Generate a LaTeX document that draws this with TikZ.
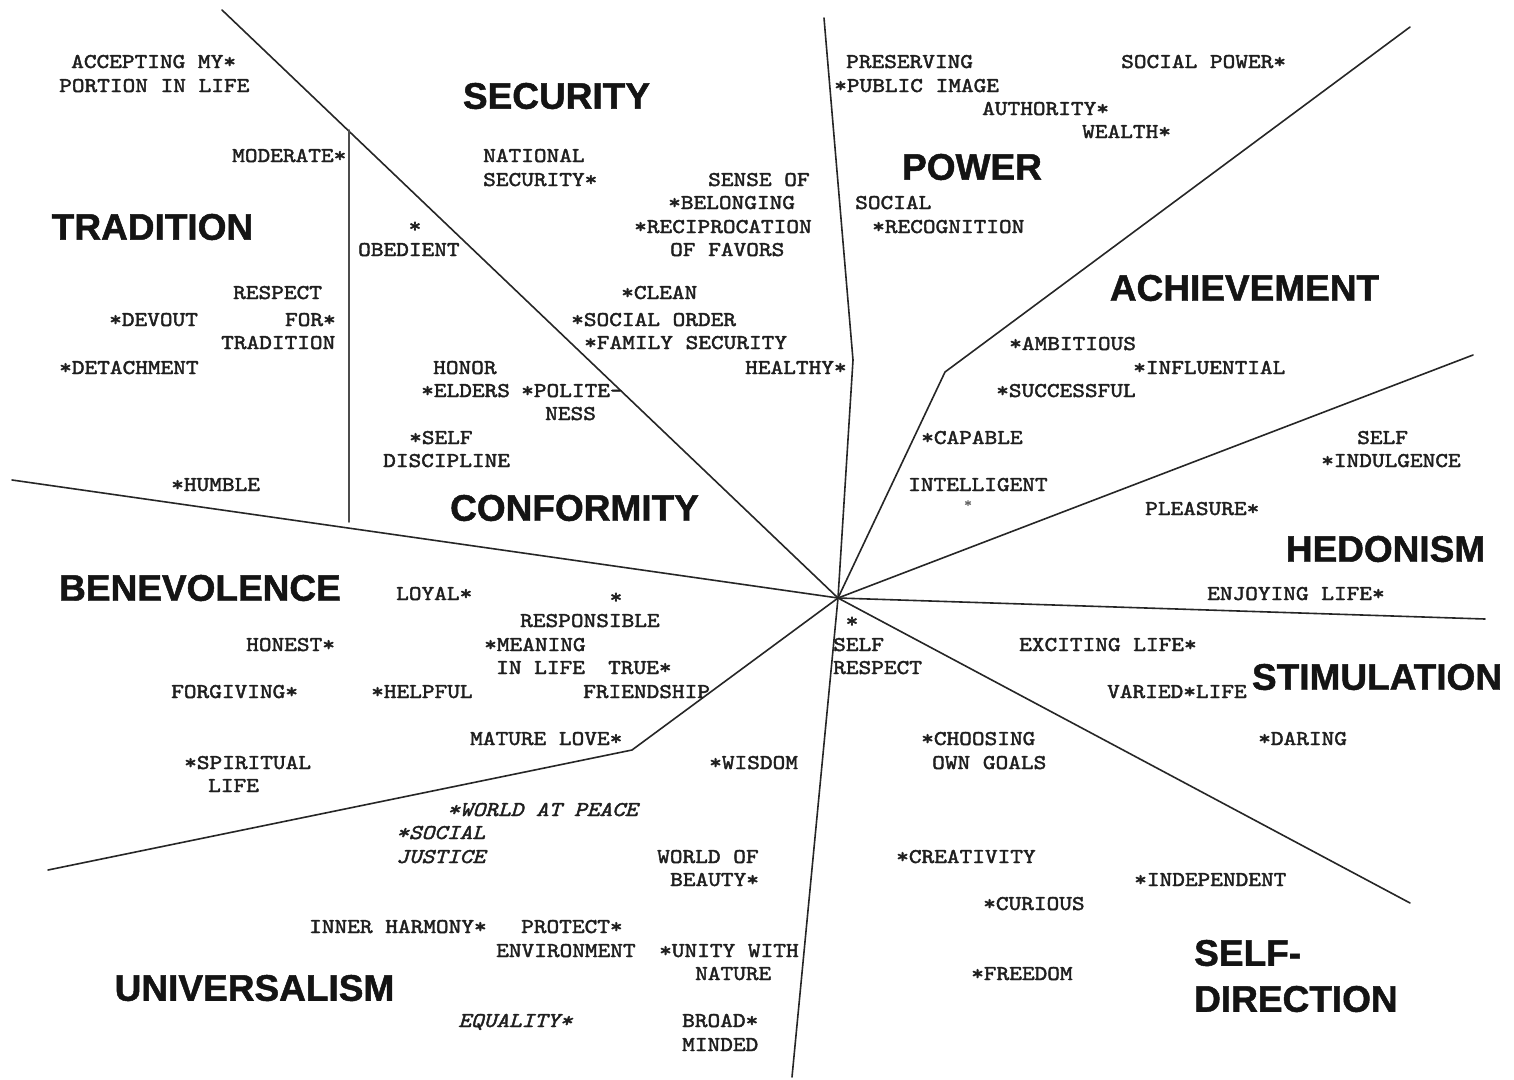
\documentclass[tikz,border=0pt]{standalone}
\usepackage{fontspec}
\newfontfamily\headfont{Liberation Sans}[BoldFeatures={FakeBold=1.3}]
\newfontfamily\lmmono{lmmono10-regular.otf}[ItalicFont=lmmono10-italic.otf, FakeStretch=1.15, FakeBold=2]
\newcommand\monosel{\lmmono\fontsize{21}{23.5}\selectfont}
\newcommand\monoselit{\lmmono\itshape\fontsize{21}{23.5}\selectfont}
\begin{document}
\begin{tikzpicture}[x=1pt,y=-1pt,
  lab/.style={font=\monosel, anchor=base west, inner sep=0pt, text=black!88},
  labr/.style={lab, anchor=base east},
  itlab/.style={lab, font=\monoselit},
  starlab/.style={lab, anchor=base},
  smallstar/.style={lab, anchor=base, font=\lmmono\fontsize{13}{14}\selectfont, text=black!60},
  head/.style={font=\headfont\bfseries\fontsize{37}{40}\selectfont, inner sep=0pt, text=black!92},
  headw/.style={head, anchor=west},
  rule/.style={line width=1.6pt, draw=black!85, line cap=round}]

\fill[white] (0,0) rectangle (1514,1079);

% ---------- lines ----------
\coordinate (c) at (838,598);
\coordinate (tl) at (222,10);
\coordinate (vtop) at (349,130);
\coordinate (vbot) at (349,522);
\coordinate (le) at (12,480);
\coordinate (tv) at (824,18);
\coordinate (tk) at (853,360);
\coordinate (ae) at (1410,27);
\coordinate (ak) at (945,372);
\coordinate (he) at (1473,355);
\coordinate (re) at (1485,619);
\coordinate (se) at (1410,903);
\coordinate (be) at (792,1077);
\coordinate (uk) at (632,750);
\coordinate (ue) at (48,870);

\draw[rule] (tl) -- (c);
\draw[rule, draw=black!70] (vtop) -- (vbot);
\draw[rule] (le) -- (c);
\draw[rule] (tv) -- (tk) -- (c);
\draw[rule] (ae) -- (ak) -- (c);
\draw[rule] (he) -- (c);
\draw[rule] (re) -- (c);
\draw[rule] (se) -- (c);
\draw[rule] (be) -- (c);
\draw[rule] (ue) -- (uk) -- (c);

% ---------- headings ----------
\node[head] (hsec) at (556.5,96) {SECURITY};
\node[head] (htra) at (152.5,227) {TRADITION};
\node[head] (hpow) at (972,167) {POWER};
\node[head] (hach) at (1244.5,288) {ACHIEVEMENT};
\node[head] (hcon) at (574.5,508) {CONFORMITY};
\node[head] (hhed) at (1385.5,549) {HEDONISM};
\node[head] (hben) at (200,588) {BENEVOLENCE};
\node[head] (hsti) at (1377,677) {STIMULATION};
\node[head] (huni) at (254.5,988) {UNIVERSALISM};
\node[headw] (hsd1) at (1194,953) {SELF-};
\node[headw] (hsd2) at (1194,999) {DIRECTION};

% ---------- tradition ----------
\node[lab] (t1) at (71,68) {ACCEPTING MY*};
\node[lab] (t2) at (59,92) {PORTION IN LIFE};
\node[lab] (t3) at (232,162) {MODERATE*};
\node[lab] (t4) at (233,299) {RESPECT};
\node[lab] (t5) at (109,326) {*DEVOUT};
\node[labr] (t6) at (336,326) {FOR*};
\node[lab] (t7) at (221,349) {TRADITION};
\node[lab] (t8) at (59,374) {*DETACHMENT};
\node[lab] (t9) at (171,491) {*HUMBLE};

% ---------- conformity ----------
\node[starlab] (c1) at (415,232.5) {*};
\node[lab] (c2) at (358,256) {OBEDIENT};
\node[lab] (c3) at (433,374) {HONOR};
\node[lab] (c4) at (421,397) {*ELDERS};
\node[lab] (c5) at (521,397) {*POLITE-};
\node[lab] (c6) at (545,420) {NESS};
\node[lab] (c7) at (409,444) {*SELF};
\node[lab] (c8) at (383,467) {DISCIPLINE};

% ---------- security ----------
\node[lab] (s1) at (483,162) {NATIONAL};
\node[lab] (s2) at (483,186) {SECURITY*};
\node[lab] (s3) at (708,186) {SENSE OF};
\node[lab] (s4) at (668,209) {*BELONGING};
\node[lab] (s5) at (634,233) {*RECIPROCATION};
\node[lab] (s6) at (670,256) {OF FAVORS};
\node[lab] (s7) at (621,299) {*CLEAN};
\node[lab] (s8) at (571,326) {*SOCIAL ORDER};
\node[lab] (s9) at (584,349) {*FAMILY SECURITY};
\node[lab] (s10) at (745,374) {HEALTHY*};

% ---------- power ----------
\node[lab] (p1) at (846,68) {PRESERVING};
\node[lab] (p2) at (834,92) {*PUBLIC IMAGE};
\node[lab] (p3) at (1121,68) {SOCIAL POWER*};
\node[lab] (p4) at (982,115) {AUTHORITY*};
\node[lab] (p5) at (1082,138) {WEALTH*};
\node[lab] (p6) at (855,209) {SOCIAL};
\node[lab] (p7) at (872,233) {*RECOGNITION};

% ---------- achievement ----------
\node[lab] (a1) at (1009,350) {*AMBITIOUS};
\node[lab] (a2) at (1133,374) {*INFLUENTIAL};
\node[lab] (a3) at (996,397) {*SUCCESSFUL};
\node[lab] (a4) at (921,444) {*CAPABLE};
\node[lab] (a5) at (908,491) {INTELLIGENT};
\node[smallstar] (a6) at (968,507) {*};

% ---------- hedonism ----------
\node[lab] (d1) at (1357,444) {SELF};
\node[lab] (d2) at (1321,467) {*INDULGENCE};
\node[lab] (d3) at (1145,515) {PLEASURE*};
\node[lab] (d4) at (1207,600) {ENJOYING LIFE*};

% ---------- stimulation ----------
\node[lab] (m1) at (1019,651) {EXCITING LIFE*};
\node[lab] (m2) at (1107,698) {VARIED*LIFE};
\node[lab] (m3) at (1258,745) {*DARING};

% ---------- self-direction ----------
\node[starlab] (r1) at (852,627.5) {*};
\node[lab] (r2) at (833,651) {SELF};
\node[lab] (r3) at (833,674) {RESPECT};
\node[lab] (r4) at (921,745) {*CHOOSING};
\node[lab] (r5) at (932,769) {OWN GOALS};
\node[lab] (r6) at (896,863) {*CREATIVITY};
\node[lab] (r7) at (983,910) {*CURIOUS};
\node[lab] (r8) at (1134,886) {*INDEPENDENT};
\node[lab] (r9) at (971,980) {*FREEDOM};

% ---------- benevolence ----------
\node[lab] (b1) at (396,600) {LOYAL*};
\node[starlab] (b2) at (616,603.5) {*};
\node[lab] (b3) at (520,627) {RESPONSIBLE};
\node[lab] (b4) at (484,651) {*MEANING};
\node[lab] (b5) at (496,674) {IN LIFE};
\node[lab] (b6) at (608,674) {TRUE*};
\node[lab] (b7) at (583,698) {FRIENDSHIP};
\node[lab] (b8) at (246,651) {HONEST*};
\node[lab] (b9) at (171,698) {FORGIVING*};
\node[lab] (b10) at (371,698) {*HELPFUL};
\node[lab] (b11) at (470,745) {MATURE LOVE*};
\node[lab] (b12) at (184,769) {*SPIRITUAL};
\node[lab] (b13) at (208,792) {LIFE};

% ---------- universalism ----------
\node[lab] (u1) at (709,769) {*WISDOM};
\node[itlab] (u2) at (447,816) {*WORLD AT PEACE};
\node[itlab] (u3) at (396,839) {*SOCIAL};
\node[itlab] (u4) at (396,863) {JUSTICE};
\node[lab] (u5) at (657,863) {WORLD OF};
\node[lab] (u6) at (670,886) {BEAUTY*};
\node[lab] (u7) at (309,933) {INNER HARMONY*};
\node[lab] (u8) at (521,933) {PROTECT*};
\node[lab] (u9) at (496,957) {ENVIRONMENT};
\node[lab] (u10) at (659,957) {*UNITY WITH};
\node[lab] (u11) at (695,980) {NATURE};
\node[itlab] (u12) at (458,1027) {EQUALITY*};
\node[lab] (u13) at (682,1027) {BROAD*};
\node[lab] (u14) at (682,1051) {MINDED};

\end{tikzpicture}
\end{document}
